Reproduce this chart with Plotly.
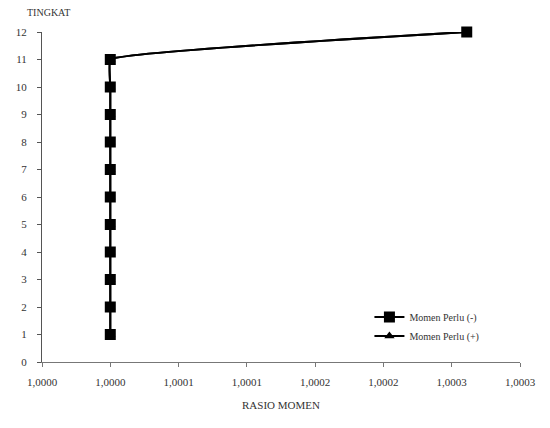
import plotly.graph_objects as go

# Data
tingkat = [1, 2, 3, 4, 5, 6, 7, 8, 9, 10, 11, 12]
rasio_minus = [1.00005, 1.00005, 1.00005, 1.00005, 1.00005, 1.00005,
               1.00005, 1.00005, 1.00005, 1.00005, 1.00005, 1.000311]
rasio_plus = [1.00005, 1.00005, 1.00005, 1.00005, 1.00005, 1.00005,
              1.00005, 1.00005, 1.00005, 1.00005, 1.00005, 1.000311]
x_tickvals = [1.0, 1.00005, 1.0001, 1.00015, 1.0002, 1.00025, 1.0003, 1.00035]
x_ticklabels = ["1,0000", "1,0000", "1,0001", "1,0001", "1,0002", "1,0002", "1,0003", "1,0003"]
y_tickvals = list(range(0, 13))

FONT = "Times New Roman, Liberation Serif, DejaVu Serif, serif"

fig = go.Figure()
fig.add_trace(go.Scatter(
    x=rasio_plus, y=tingkat, name="Momen Perlu (+)",
    mode="lines+markers", cliponaxis=False,
    line=dict(color="black", width=2, shape="spline", smoothing=0.25),
    marker=dict(symbol="triangle-up", size=9, color="black"),
    legendrank=2,
))
fig.add_trace(go.Scatter(
    x=rasio_minus, y=tingkat, name="Momen Perlu (-)",
    mode="lines+markers", cliponaxis=False,
    line=dict(color="black", width=2, shape="spline", smoothing=0.25),
    marker=dict(symbol="square", size=11, color="black"),
    legendrank=1,
))

fig.update_layout(
    width=550, height=428,
    margin=dict(l=42, r=30, t=32, b=66),
    paper_bgcolor="white", plot_bgcolor="white",
    font=dict(family=FONT, size=11, color="#333"),
    showlegend=True,
    legend=dict(x=0.685, y=0.18, xanchor="left", yanchor="top",
                font=dict(family=FONT, size=10, color="#333"),
                bgcolor="rgba(0,0,0,0)", tracegroupgap=0),
    xaxis=dict(range=[1.0, 1.00035], tickvals=x_tickvals, ticktext=x_ticklabels,
               showgrid=False, zeroline=False, showline=True, linecolor="#777",
               linewidth=1, ticks="outside", ticklen=4, tickcolor="#777",
               ticklabelstandoff=6,
               title=dict(text="RASIO MOMEN", font=dict(family=FONT, size=11, color="#333"),
                          standoff=14)),
    yaxis=dict(range=[0, 12], tickvals=y_tickvals, showgrid=False, zeroline=False,
               showline=True, linecolor="#555", linewidth=1, ticks="outside",
               ticklen=4, tickcolor="#555", ticklabelstandoff=8),
    annotations=[dict(text="TINGKAT", xref="paper", yref="paper",
                      x=-0.036, y=1.058, xanchor="left", yanchor="middle",
                      showarrow=False, font=dict(family=FONT, size=10, color="#333"))],
)

fig.write_html("out.html")
